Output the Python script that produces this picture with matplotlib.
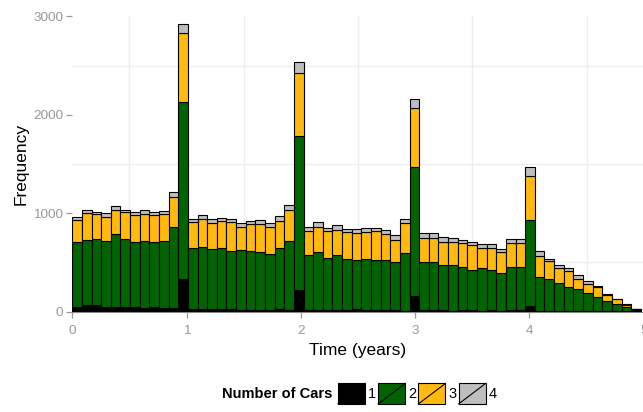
import matplotlib
matplotlib.use("Agg")
import matplotlib.pyplot as plt
import numpy as np
from matplotlib.legend_handler import HandlerPatch
from matplotlib.patches import Rectangle
from matplotlib.lines import Line2D

plt.rcParams['font.family'] = ['Liberation Sans', 'DejaVu Sans']

# histogram counts per bin (bin width ~ 0.084 years), one list per number of cars
bin_width = 0.0843
cars1 = [51, 65, 65, 51, 45, 51, 51, 34, 45, 34, 34, 335,
         24, 24, 31, 24, 24, 17, 17, 17, 17, 24, 17, 220,
         17, 17, 17, 17, 17, 31, 17, 17, 17, 17, 7, 162,
         17, 17, 17, 7, 17, 17, 10, 17, 10, 17, 17, 61,
         7, 7, 7, 7, 7, 7, 7, 7, 7, 7, 25]
cars2 = [657, 663, 673, 667, 744, 687, 657, 684, 663, 684, 823, 1795,
         626, 636, 602, 626, 592, 606, 599, 589, 566, 626, 701, 1567,
         555, 589, 528, 555, 518, 494, 518, 508, 508, 488, 586, 1310,
         488, 488, 454, 464, 440, 406, 430, 406, 380, 433, 433, 873,
         342, 322, 288, 241, 220, 186, 139, 105, 71, 38, 0]
cars3 = [223, 271, 251, 247, 244, 271, 274, 274, 274, 274, 305, 697,
         258, 278, 265, 268, 292, 234, 271, 284, 280, 271, 318, 634,
         248, 257, 275, 258, 274, 274, 274, 295, 264, 223, 305, 600,
         247, 247, 237, 237, 237, 251, 210, 224, 216, 244, 244, 447,
         217, 183, 149, 162, 108, 91, 102, 54, 48, 26, 0]
cars4 = [34, 37, 27, 40, 43, 27, 34, 44, 27, 34, 57, 92,
         37, 47, 47, 37, 37, 47, 37, 44, 41, 51, 51, 118,
         43, 48, 33, 50, 34, 44, 44, 33, 41, 48, 47, 91,
         44, 51, 54, 44, 34, 34, 34, 37, 34, 47, 47, 91,
         54, 26, 33, 30, 35, 28, 13, 17, 6, 10, 0]

labels = ['1', '2', '3', '4']
colors = ['#000000', '#006400', '#FFB90F', '#BEBEBE']

counts = np.array([cars1, cars2, cars3, cars4])
left = np.arange(counts.shape[1]) * bin_width
bottom = np.zeros(counts.shape[1])

fig = plt.figure(figsize=(6.43, 4.12), dpi=100)
ax = fig.add_axes([0.1124, 0.2434, 0.8977, 0.717])

for vals, col, lab in zip(counts, colors, labels):
    ax.bar(left, vals, width=bin_width, bottom=bottom, align='edge',
           color=col, edgecolor='black', linewidth=0.8, label=lab, zorder=3)
    bottom = bottom + vals

ax.set_xlim(0, 5.05)
ax.set_ylim(0, 3000)
ax.set_xticks(range(6))
ax.set_yticks([0, 1000, 2000, 3000])
ax.set_xticks(np.arange(0.5, 5, 1), minor=True)
ax.set_yticks([500, 1500, 2500], minor=True)
ax.set_axisbelow(True)
ax.grid(which='minor', color='#EEEEEE', linewidth=1.0, zorder=0)
ax.tick_params(which='minor', length=0)
ax.tick_params(which='major', colors='#999999', labelsize=9.7,
               length=4, width=0.9, pad=2.5)
ax.tick_params(axis='x', which='major', pad=5.5)
for s in ['top', 'right', 'left']:
    ax.spines[s].set_visible(False)
ax.spines['bottom'].set_color('#888888')

ax.set_xlabel('Time (years)', fontsize=12.5)
ax.xaxis.set_label_coords(0.4946, -0.107)
ax.set_ylabel('Frequency', fontsize=12.5)
ax.yaxis.set_label_coords(-0.075, 0.5)


class SlashHandler(HandlerPatch):
    def create_artists(self, legend, orig_handle, xdescent, ydescent,
                       width, height, fontsize, trans):
        r = Rectangle((-xdescent, -ydescent), width, height,
                      facecolor=orig_handle.get_facecolor(),
                      edgecolor='black', lw=0.8, transform=trans)
        ln = Line2D([-xdescent, -xdescent + width],
                    [-ydescent, -ydescent + height],
                    color='black', lw=0.8, transform=trans)
        return [r, ln]


handles = [Rectangle((0, 0), 1, 1, facecolor=c) for c in colors]
fig.legend(handles, labels, handler_map={Rectangle: SlashHandler()},
           loc='center left', bbox_to_anchor=(338 / 643, (412 - 393.7) / 412),
           ncol=4, frameon=False, fontsize=10.5, handlelength=1.85,
           handleheight=1.78, handletextpad=0.2, columnspacing=0.15,
           borderpad=0, borderaxespad=0)
fig.text(332 / 643, (412 - 394) / 412, 'Number of Cars', ha='right',
         va='center', fontsize=10.5, fontweight='bold')

fig.savefig('out.png', dpi=100)
